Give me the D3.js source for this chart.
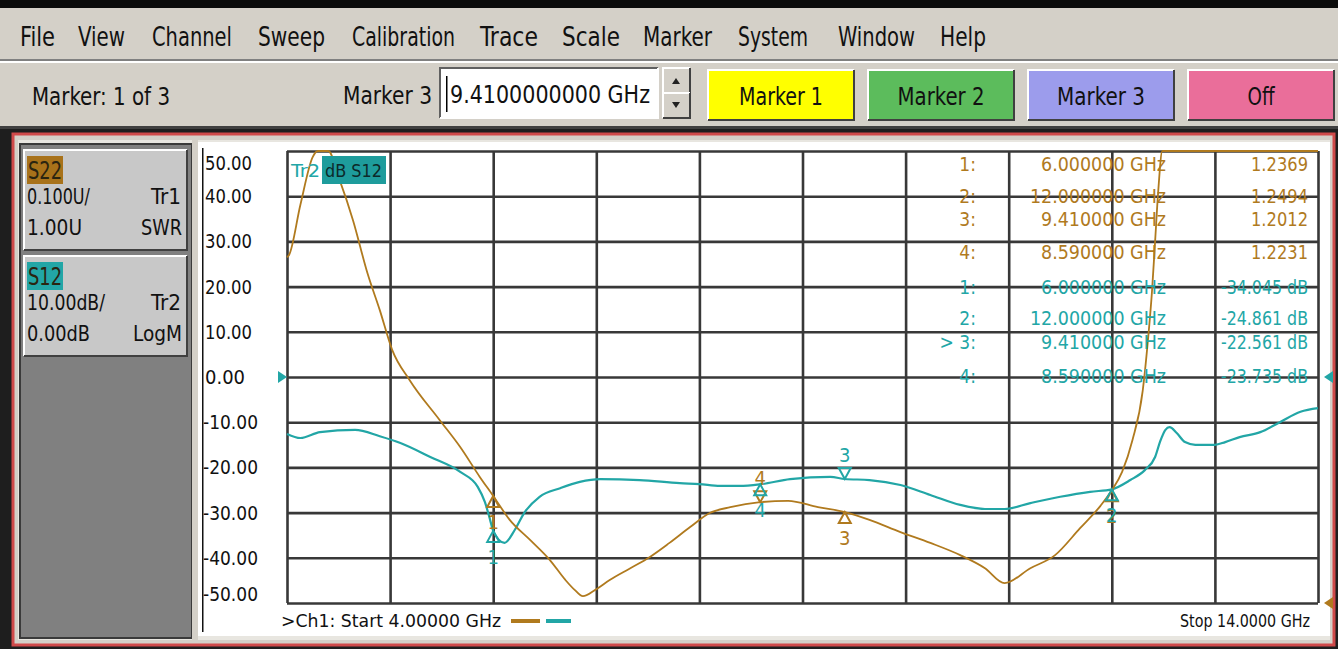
<!DOCTYPE html>
<html>
<head>
<meta charset="utf-8">
<script src="https://cdn.jsdelivr.net/npm/d3@7"></script>
<style>
  body { margin: 0; background: #d4d0c8; overflow: hidden; }
  svg { display: block; }
  text { font-family: "Liberation Sans Narrow", "DejaVu Sans Condensed", "Liberation Sans", sans-serif; }
</style>
</head>
<body>
<svg id="vna" width="1338" height="649"></svg>
<script>
// S22 trace (Tr1, SWR)
const s22Freq = [4.00, 4.02, 4.13, 4.25, 4.30, 4.40, 4.51, 4.64, 4.78, 4.90, 5.02, 5.19, 5.48, 5.68, 5.87, 6.00,
  6.16, 6.36, 6.55, 6.70, 6.79, 6.87, 6.99, 7.13, 7.33, 7.52, 7.71, 7.91, 8.10, 8.30, 8.59, 8.86, 9.15, 9.41,
  9.65, 9.95, 10.24, 10.53, 10.77, 10.96, 11.21, 11.45, 11.69, 11.89, 12.00, 12.10, 12.20, 12.30, 12.35, 12.39,
  12.42, 12.45, 12.49, 12.55, 13.00, 13.50, 14.00];
const s22Swr = [1.765, 1.770, 1.881, 1.987, 2.02, 2.06, 1.936, 1.847, 1.730, 1.648, 1.560, 1.493, 1.405, 1.345, 1.279, 1.2369,
  1.184, 1.139, 1.095, 1.051, 1.029, 1.015, 1.029, 1.051, 1.077, 1.102, 1.133, 1.168, 1.199, 1.212, 1.2231, 1.226, 1.212, 1.2012,
  1.184, 1.157, 1.133, 1.106, 1.077, 1.044, 1.077, 1.106, 1.165, 1.215, 1.2494, 1.29, 1.36, 1.47, 1.58, 1.69,
  1.80, 1.91, 2.00, 2.10, 2.60, 2.90, 3.10];

// S12 trace (Tr2, LogM dB)
const s12Freq = [4.00, 4.13, 4.32, 4.66, 4.90, 5.10, 5.39, 5.68, 5.85, 5.92, 5.97, 6.00, 6.11, 6.21, 6.30, 6.45, 6.65,
  6.84, 7.04, 7.42, 7.81, 8.00, 8.20, 8.39, 8.59, 8.88, 9.27, 9.41, 9.65, 9.95, 10.24, 10.53, 10.77, 10.96, 11.21,
  11.50, 11.79, 12.00, 12.18, 12.32, 12.42, 12.47, 12.52, 12.56, 12.63, 12.71, 12.81, 13.00, 13.10, 13.24, 13.44,
  13.63, 13.83, 14.00];
const s12Db = [-12.6, -13.5, -12.2, -11.7, -13.1, -14.6, -17.7, -21.0, -24.3, -27.7, -31.6, -34.045, -36.7, -33.8, -30.1, -26.5, -24.6,
  -23.2, -22.6, -22.8, -23.5, -23.7, -24.1, -24.1, -23.735, -22.6, -22.1, -22.561, -22.8, -23.9, -26.1, -28.3, -29.2, -29.2, -27.9,
  -26.5, -25.4, -24.861, -22.8, -20.6, -17.7, -14.2, -11.7, -11.1, -12.4, -14.4, -15.0, -15.0, -14.4, -13.3, -12.2,
  -10.0, -7.7, -6.9];

// markers
const markerNames = ["1", "2", "3", "4"];
const markerFreq = [6.0, 12.0, 9.41, 8.59];
const markerSwr = [1.2369, 1.2494, 1.2012, 1.2231];
const markerDb = [-34.045, -24.861, -22.561, -23.735];
const activeMarker = "3";

const yTickValues = [50, 40, 30, 20, 10, 0, -10, -20, -30, -40, -50];
const menuItems = ["File", "View", "Channel", "Sweep", "Calibration", "Trace", "Scale", "Marker", "System", "Window", "Help"];
const markerButtons = ["Marker 1", "Marker 2", "Marker 3", "Off"];

const BROWN = "#b07a1e";
const TEAL = "#22a6a6";
const svg = d3.select("#vna");

function label(g, str, x, y, size, opt = {}) {
  const t = g.append("text")
    .attr("x", x).attr("y", y)
    .attr("dominant-baseline", "central")
    .attr("text-anchor", opt.anchor || "start")
    .attr("fill", opt.fill || "#111")
    .style("font-size", size + "px")
    .text(str);
  if (opt.len) t.attr("textLength", opt.len).attr("lengthAdjust", "spacingAndGlyphs");
  return t;
}

function bevel(g, x, y, w, h, fill, raised = true) {
  g.append("rect").attr("x", x).attr("y", y).attr("width", w).attr("height", h).attr("fill", fill);
  const lt = raised ? "#fff" : "#606060", dk = raised ? "#404040" : "#fff";
  g.append("path").attr("d", `M${x},${y + h}V${y}H${x + w}`).attr("fill", "none").attr("stroke", lt).attr("stroke-width", 2);
  g.append("path").attr("d", `M${x},${y + h}H${x + w}V${y}`).attr("fill", "none").attr("stroke", dk).attr("stroke-width", 2);
}

// ---- window chrome ----
svg.append("rect").attr("width", 1338).attr("height", 8).attr("fill", "#0a0a0a");
const menu = svg.append("g");
const menuX = [20, 78, 152, 258, 352, 480, 562, 643, 738, 838, 940];
const menuW = [35, 47, 80, 67, 103, 58, 58, 69, 70, 77, 46];
menuItems.forEach((m, i) => label(menu, m, menuX[i], 36, 27, { len: menuW[i] }));
svg.append("rect").attr("y", 59).attr("width", 1338).attr("height", 2).attr("fill", "#808080");
svg.append("rect").attr("y", 61).attr("width", 1338).attr("height", 2).attr("fill", "#fff");

const bar = svg.append("g");
label(bar, "Marker: 1 of 3", 32, 96, 25, { len: 138 });
label(bar, "Marker 3", 343, 95, 25, { len: 89 });
bevel(bar, 440, 68, 218, 50, "#fff", false);
bar.append("rect").attr("x", 446).attr("y", 76).attr("width", 1.5).attr("height", 36).attr("fill", "#000");
label(bar, "9.4100000000 GHz", 450, 94, 25, { len: 200 });
bevel(bar, 663, 68, 27, 25, "#d4d0c8");
bevel(bar, 663, 93, 27, 25, "#d4d0c8");
bar.append("path").attr("d", "M672,84l4,-6l4,6z").attr("fill", "#222");
bar.append("path").attr("d", "M672,102l4,6l4,-6z").attr("fill", "#222");
const btnX = [708, 868, 1028, 1188];
const btnFill = ["#ffff00", "#5cbc5c", "#9c9cec", "#ea6e9a"];
const btnLen = [84, 87, 88, 27];
markerButtons.forEach((b, i) => {
  bevel(bar, btnX[i], 70, 146, 50, btnFill[i]);
  label(bar, b, btnX[i] + 73, 96, 25, { anchor: "middle", len: btnLen[i] });
});
svg.append("rect").attr("y", 126).attr("width", 1338).attr("height", 3).attr("fill", "#404040");

// ---- channel window frame ----
svg.append("rect").attr("y", 129).attr("width", 1338).attr("height", 520).attr("fill", "#1e1e1e");
svg.append("rect").attr("x", 13).attr("y", 134).attr("width", 1321).attr("height", 511)
  .attr("fill", "#d4d0c8").attr("stroke", "#d04a4a").attr("stroke-width", 3);
svg.append("rect").attr("x", 18).attr("y", 140).attr("width", 1312).attr("height", 500).attr("fill", "#e8e6e0");

// left trace status panel
const panel = svg.append("g");
panel.append("rect").attr("x", 20).attr("y", 144).attr("width", 172).attr("height", 494)
  .attr("fill", "#808080").attr("stroke", "#3a3a3a").attr("stroke-width", 2);
function traceBox(y, name, color, l1, r1, l2, r2, lens) {
  bevel(panel, 24, y, 163, 100, "#c8c8c8");
  panel.append("rect").attr("x", 27).attr("y", y + 6).attr("width", 36).attr("height", 28).attr("fill", color);
  label(panel, name, 28, y + 20, 25, { fill: "#2a2410", len: 34 });
  label(panel, l1, 27, y + 47, 21, { len: lens[0] });
  label(panel, r1, 181, y + 47, 21, { anchor: "end", len: lens[1] });
  label(panel, l2, 27, y + 78, 21, { len: lens[2] });
  label(panel, r2, 182, y + 78, 21, { anchor: "end", len: lens[3] });
}
traceBox(150, "S22", "#a8721a", "0.100U/", "Tr1", "1.00U", "SWR", [63, 30, 55, 41]);
traceBox(256, "S12", TEAL, "10.00dB/", "Tr2", "0.00dB", "LogM", [78, 30, 63, 49]);
svg.append("rect").attr("x", 192).attr("y", 140).attr("width", 6).attr("height", 500).attr("fill", "#d4d0c8");

// ---- plot area ----
svg.append("rect").attr("x", 198).attr("y", 142).attr("width", 1132).attr("height", 494).attr("fill", "#fff");
svg.append("rect").attr("x", 202).attr("y", 148).attr("width", 1.5).attr("height", 484).attr("fill", "#111");

const x = d3.scaleLinear().domain([4, 14]).range([287, 1318]);
const yDb = d3.scaleLinear().domain([-50, 50]).range([603, 151]).clamp(true);
const ySwr = d3.scaleLinear().domain([1, 2]).range([603, 151]).clamp(true);
const plot = svg.append("g");

plot.append("g")
  .attr("transform", `translate(0,${yDb(-50)})`)
  .call(d3.axisBottom(x).tickValues(d3.range(4, 15)).tickSize(-(yDb(-50) - yDb(50))).tickFormat(""))
  .call(g => g.select(".domain").remove())
  .call(g => g.selectAll(".tick line").attr("stroke", "#383838").attr("stroke-width", 2.6));
plot.append("g")
  .attr("transform", `translate(${x(4)},0)`)
  .call(d3.axisLeft(yDb).tickValues(yTickValues).tickSize(-(x(14) - x(4))).tickFormat(""))
  .call(g => g.select(".domain").remove())
  .call(g => g.selectAll(".tick line").attr("stroke", "#383838").attr("stroke-width", 2.6));

// y labels (Tr2 scale), clamped inside the graticule
yTickValues.forEach(v => {
  const yy = Math.min(Math.max(yDb(v), 163), 594);
  label(plot, v.toFixed(2), v < 0 ? 203 : 205, yy, 20, { len: v < 0 ? 55 : (v === 0 ? 40 : 47) });
});

// traces
const lineSwr = d3.line().x(i => x(s22Freq[i])).y(i => ySwr(s22Swr[i])).curve(d3.curveMonotoneX);
const lineDb = d3.line().x(i => x(s12Freq[i])).y(i => yDb(s12Db[i])).curve(d3.curveMonotoneX);
plot.append("path").attr("d", lineDb(d3.range(s12Freq.length)))
  .attr("fill", "none").attr("stroke", TEAL).attr("stroke-width", 2.2);
plot.append("path").attr("d", lineSwr(d3.range(s22Freq.length)))
  .attr("fill", "none").attr("stroke", BROWN).attr("stroke-width", 1.8);

// markers
function marker(px, py, up, name, color, labelAbove) {
  const d = up ? `M${px},${py}l-6,11h12z` : `M${px},${py}l-6,-11h12z`;
  plot.append("path").attr("d", d).attr("fill", "none").attr("stroke", color).attr("stroke-width", 2);
  const ly = labelAbove ? py - 24 : py + 26;
  label(plot, name, px, ly, 20, { anchor: "middle", fill: color });
}
const s22Up = [true, true, true, false];
const s12Up = [true, true, false, true];
markerNames.forEach((n, i) => {
  marker(x(markerFreq[i]), ySwr(markerSwr[i]), s22Up[i], n, BROWN, !s22Up[i]);
  marker(x(markerFreq[i]), yDb(markerDb[i]), s12Up[i], n, TEAL, !s12Up[i]);
});

// reference arrows
plot.append("path").attr("d", `M278,${yDb(0) - 6}l9,6l-9,6z`).attr("fill", TEAL);
plot.append("path").attr("d", `M1333,${yDb(0) - 6}l-9,6l9,6z`).attr("fill", TEAL);
plot.append("path").attr("d", `M1333,${ySwr(1) - 6}l-9,6l9,6z`).attr("fill", BROWN);

// trace title
label(plot, "Tr2", 291, 170, 18, { fill: TEAL, len: 29 });
plot.append("rect").attr("x", 322).attr("y", 156).attr("width", 64).attr("height", 28).attr("fill", "#1e9c9c");
label(plot, "dB S12", 325, 170, 18, { fill: "#0c2a2a", len: 57 });

// marker readout table
const tableY = [164, 196, 219, 252, 287, 318, 342, 376];
const rows = [];
markerNames.forEach((n, i) => rows.push({ n: n + ":", f: markerFreq[i], v: markerSwr[i].toFixed(4), c: BROWN }));
markerNames.forEach((n, i) => rows.push({ n: (n === activeMarker ? "> " : "") + n + ":", f: markerFreq[i], v: markerDb[i].toFixed(3) + " dB", c: TEAL }));
rows.forEach((r, i) => {
  label(plot, r.n, 976, tableY[i], 19, { anchor: "end", fill: r.c });
  const fs = r.f.toFixed(6) + " GHz";
  label(plot, fs, 1166, tableY[i], 19, { anchor: "end", fill: r.c, len: r.f >= 10 ? 136 : 125 });
  label(plot, r.v, 1308, tableY[i], 19, { anchor: "end", fill: r.c, len: r.c === BROWN ? 57 : 87 });
});

// footer
label(plot, ">Ch1: Start  4.00000 GHz", 281, 620, 18, { len: 220 });
plot.append("line").attr("x1", 511).attr("x2", 540).attr("y1", 621).attr("y2", 621).attr("stroke", BROWN).attr("stroke-width", 4);
plot.append("line").attr("x1", 546).attr("x2", 571).attr("y1", 621).attr("y2", 621).attr("stroke", TEAL).attr("stroke-width", 4);
label(plot, "Stop  14.0000 GHz", 1310, 620, 18, { anchor: "end", len: 130 });
</script>
</body>
</html>
